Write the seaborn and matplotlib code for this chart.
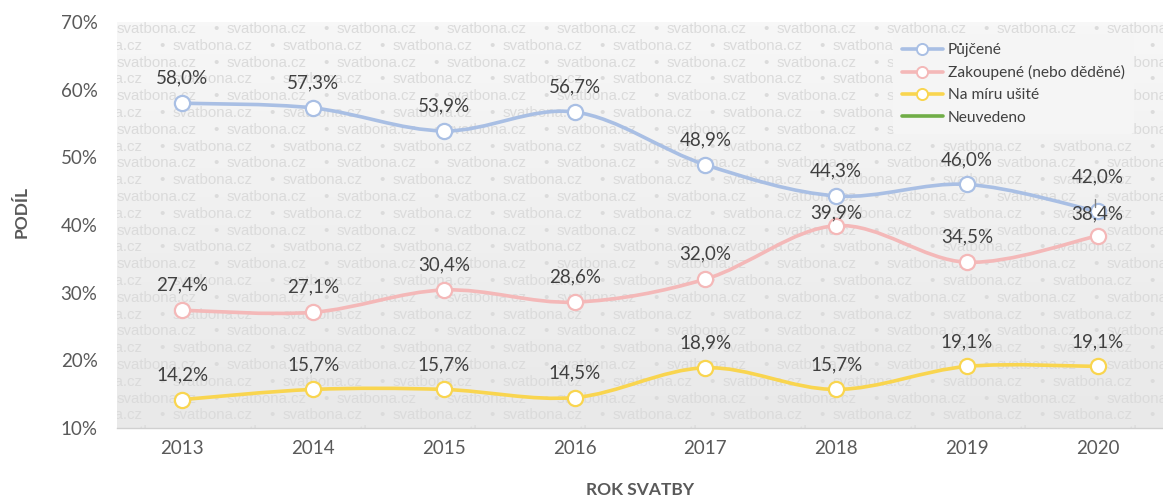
import numpy as np
import matplotlib
matplotlib.use("Agg")
import matplotlib.pyplot as plt
import seaborn as sns
from matplotlib.path import Path
from matplotlib.patches import PathPatch
from matplotlib.lines import Line2D
from matplotlib.colors import LinearSegmentedColormap

# data
years = ["2013", "2014", "2015", "2016", "2017", "2018", "2019", "2020"]
pujcene = [58.0, 57.3, 53.9, 56.7, 48.9, 44.3, 46.0, 42.0]
zakoupene = [27.4, 27.1, 30.4, 28.6, 32.0, 39.9, 34.5, 38.4]
na_miru = [14.2, 15.7, 15.7, 14.5, 18.9, 15.7, 19.1, 19.1]
series_names = ["Půjčené", "Zakoupené (nebo děděné)", "Na míru ušité", "Neuvedeno"]
y_ticks = [10, 20, 30, 40, 50, 60, 70]

colors = ["#a9bfe4", "#f4b8b8", "#f9d54f", "#70ad47"]

sns.set_theme(style="white")
plt.rcParams["font.family"] = ["Lato", "DejaVu Sans"]

fig = plt.figure(figsize=(11.63, 4.97), dpi=100)
ax = fig.add_axes([117 / 1163, 1 - 428 / 497, 1046 / 1163, 406 / 497])

# light gray gradient background
cmap_bg = LinearSegmentedColormap.from_list("bg", ["#e9e9e9", "#f7f7f7"])
ax.imshow(np.linspace(0, 1, 100)[:, None], cmap=cmap_bg, extent=[0, 1, 0, 1],
          transform=ax.transAxes, aspect="auto", origin="lower", zorder=0)

# watermark: size the word so it spans ~80 px like in the reference
renderer = fig.canvas.get_renderer()
probe = fig.text(0, 0, "svatbona.cz", fontsize=10, family="Liberation Sans")
w10 = probe.get_window_extent(renderer).width
probe.remove()
wm_size = 10 * 80 / w10

for r in range(25):
    y_px = 29 + 16.8 * r
    yf = (428 - y_px) / 406
    xoff = 0 if r % 2 == 0 else -54
    for c in range(-1, 11):
        x_px = xoff + 110 * c
        ax.text(x_px / 1046, yf, "svatbona.cz", transform=ax.transAxes, fontsize=wm_size,
                family="Liberation Sans", color="#dbdbdb",
                ha="left", va="center", clip_on=True, zorder=0.5)
        ax.text((x_px + 99) / 1046, yf, "•", transform=ax.transAxes, fontsize=wm_size,
                family="Liberation Sans", color="#dbdbdb",
                ha="center", va="center", clip_on=True, zorder=0.5)


def smooth_path(xs, ys):
    # Catmull-Rom style bezier like Excel's smoothed line
    pts = np.column_stack([xs, ys]).astype(float)
    n = len(pts)
    verts = [pts[0]]
    codes = [Path.MOVETO]
    for i in range(n - 1):
        p0 = pts[max(i - 1, 0)]
        p1 = pts[i]
        p2 = pts[i + 1]
        p3 = pts[min(i + 2, n - 1)]
        verts += [p1 + (p2 - p0) / 6, p2 - (p3 - p1) / 6, p2]
        codes += [Path.CURVE4] * 3
    return Path(verts, codes)


xs = np.arange(len(years))
all_series = [pujcene, zakoupene, na_miru]

# label offsets in points (default 18 above the marker)
label_offset = {(1, 5): 9, (0, 7): 25, (1, 7): 16}

for i, vals in enumerate(all_series):
    ax.add_patch(PathPatch(smooth_path(xs, vals), facecolor="none", edgecolor=colors[i],
                           lw=2.6, zorder=3, capstyle="round"))
    sns.scatterplot(x=xs, y=vals, ax=ax, color="white", edgecolor=colors[i], s=120,
                    linewidth=1.6, zorder=4, legend=False)
    for j, v in enumerate(vals):
        off = label_offset.get((i, j), 18)
        txt = f"{v:.1f}%".replace(".", ",")
        ax.annotate(txt, (xs[j], v), xytext=(0, off), textcoords="offset points",
                    ha="center", va="center", fontsize=13.5, color="#404040", zorder=5)

# leader line for the 2020 label of the first series
ax.plot([xs[7] - 0.02, xs[7] - 0.02], [pujcene[7] + 0.6, pujcene[7] + 1.9],
        color="#808080", lw=1, zorder=5)

ax.set_xlim(-0.5, len(years) - 0.5)
ax.set_ylim(10, 70)
ax.set_xticks(xs)
ax.set_xticklabels(years)
ax.set_yticks(y_ticks)
ax.set_yticklabels([f"{t}%" for t in y_ticks])
ax.tick_params(axis="both", length=0, labelsize=13.5, labelcolor="#595959")
ax.tick_params(axis="y", pad=14)
ax.tick_params(axis="x", pad=9)
for s in ["top", "right", "left"]:
    ax.spines[s].set_visible(False)
ax.spines["bottom"].set_color("#d0d0d0")
ax.spines["bottom"].set_linewidth(1)

fig.text(22 / 1163, 1 - 212 / 497, "PODÍL", rotation=90, ha="center", va="center",
         fontsize=12.5, fontweight="bold", color="#595959")
fig.text(640 / 1163, 1 - 490 / 497, "ROK SVATBY", ha="center", va="center",
         fontsize=12.5, fontweight="bold", color="#595959")

handles = []
for i, name in enumerate(series_names):
    if i < 3:
        handles.append(Line2D([0], [0], color=colors[i], lw=2.6, marker="o", ms=8,
                              markerfacecolor="white", markeredgecolor=colors[i], mew=1.4))
    else:
        handles.append(Line2D([0], [0], color=colors[i], lw=2.6))
leg = ax.legend(handles, series_names, loc="upper right", bbox_to_anchor=(0.98, 0.99),
                fontsize=11.2, frameon=True, facecolor="#f5f5f5", edgecolor="none",
                framealpha=1, handlelength=2.6, handletextpad=0.35, labelspacing=0.52,
                borderpad=0.6)
for t in leg.get_texts():
    t.set_color("#404040")
leg.set_zorder(6)

fig.savefig("out.png", dpi=100)
